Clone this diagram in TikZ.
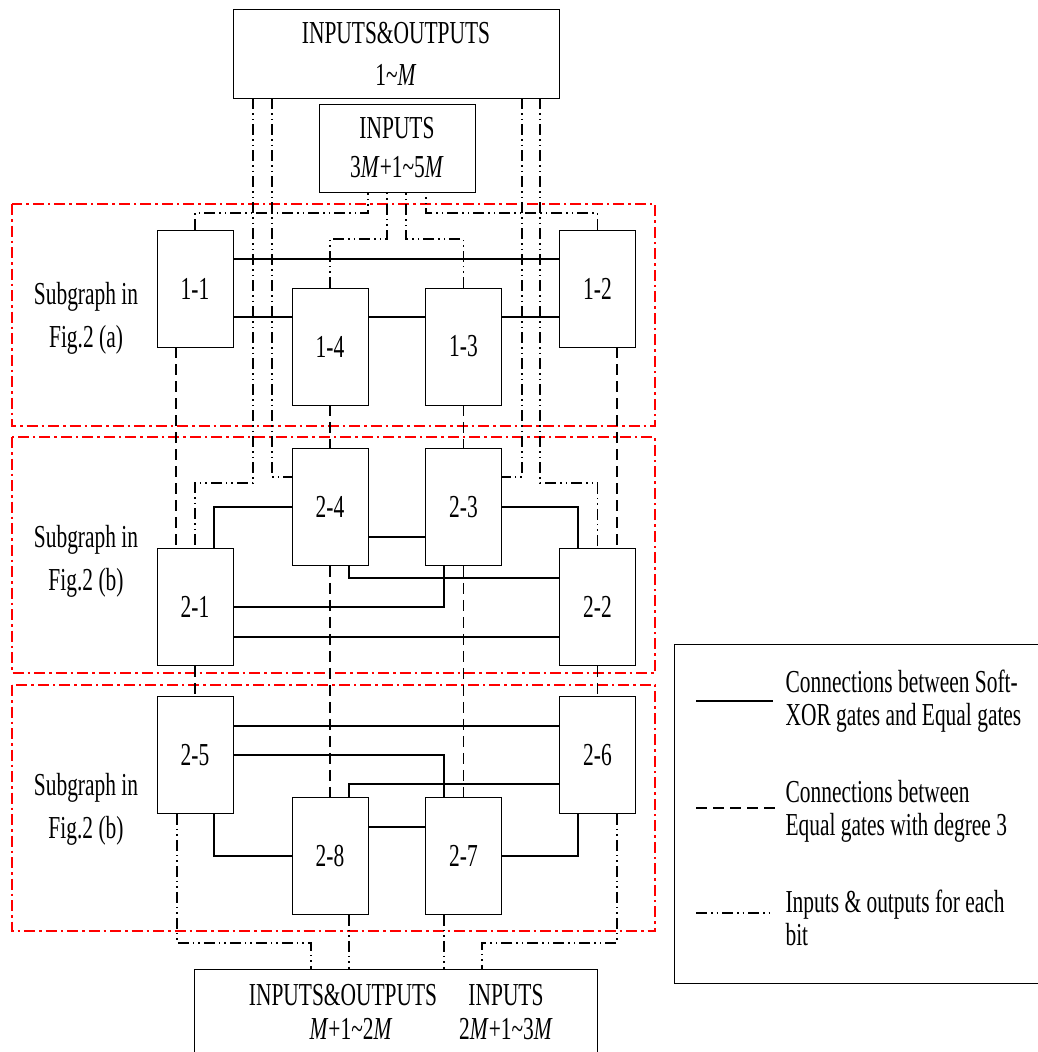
\documentclass[tikz,border=0pt]{standalone}
\usepackage{fontspec}
\setmainfont[FakeStretch=0.67]{Liberation Serif}
\usetikzlibrary{calc,positioning}

\begin{document}
\begin{tikzpicture}[x=1pt, y=-1pt,
    font=\fontsize{32}{38}\selectfont,
    gate/.style={draw, line width=0.9pt, minimum width=76pt, minimum height=117pt, inner sep=0pt},
    iobox/.style={draw, line width=0.9pt, inner sep=0pt, align=center},
    xorlink/.style={line width=1.4pt},
    eqlink/.style={line width=1.2pt, dash pattern=on 11pt off 6pt},
    iolink/.style={line width=1.2pt, dash pattern=on 11pt off 4pt on 1.5pt off 4pt on 1.5pt off 4pt},
    subgraph/.style={red, line width=1.3pt, dash pattern=on 11pt off 4pt on 2.5pt off 4pt}]
                        \useasboundingbox (0,0) rectangle (1038,1052);
                        \draw[subgraph]
                        (12,204) rectangle (655,426)
                        (12,437) rectangle (655,673)
                        (12,685) rectangle (655,931);
                        \node[align=center, font=\fontsize{32}{43}\selectfont] (lab1) at (86,318) {Subgraph in\\Fig.2 (a)};
                        \node[align=center, font=\fontsize{32}{43}\selectfont] (lab2) at (86,561) {Subgraph in\\Fig.2 (b)};
                        \node[align=center, font=\fontsize{32}{43}\selectfont] (lab3) at (86,809) {Subgraph in\\Fig.2 (b)};
                        \node[iobox, minimum width=326pt, minimum height=89pt, font=\fontsize{32}{42}\selectfont] (topio) at (396,53.5) {INPUTS\&OUTPUTS\\1\textasciitilde\textit{M}};
                        \node[iobox, minimum width=156pt, minimum height=88pt, font=\fontsize{32}{39}\selectfont] (inpt) at (397,148) {INPUTS\\3\textit{M}+1\textasciitilde 5\textit{M}};
                        \node[iobox, minimum width=403pt, minimum height=100pt, anchor=north] (botio) at (395.5,969) {};
                        \node[align=center, font=\fontsize{32}{34}\selectfont] (botiotxt) at (343,1012) {INPUTS\&OUTPUTS\\\hspace*{16pt}\textit{M}+1\textasciitilde 2\textit{M}};
                        \node[align=center, font=\fontsize{32}{34}\selectfont] (botintxt) at (506,1012) {INPUTS\\2\textit{M}+1\textasciitilde 3\textit{M}};
                        \node[gate] (g11) at (195,288.5) {1-1};
                        \node[gate] (g14) at (330,346.5) {1-4};
                        \node[gate] (g13) at (463.5,346.5) {1-3};
                        \node[gate] (g12) at (597.5,288.5) {1-2};
                        \node[gate] (g24) at (330,507) {2-4};
                        \node[gate] (g23) at (463.5,507) {2-3};
                        \node[gate] (g21) at (195,607) {2-1};
                        \node[gate] (g22) at (597.5,607) {2-2};
                        \node[gate] (g25) at (195,755) {2-5};
                        \node[gate] (g26) at (597.5,755) {2-6};
                        \node[gate] (g28) at (330,856) {2-8};
                        \node[gate] (g27) at (463.5,856) {2-7};
                        \draw[xorlink]
                        (g11.east |- 0,259) -- (g12.west |- 0,259)
                        (g11.east |- 0,317) -- (g14.west |- 0,317)
                        (g14.east |- 0,317) -- (g13.west |- 0,317)
                        (g13.east |- 0,317) -- (g12.west |- 0,317)
                        (g21.north -| 214,0) |- (g24.west)
                        (g24.east |- 0,537) -- (g23.west |- 0,537)
                        (g23.east) -| (g22.north -| 578,0)
                        (g24.south -| 349,0) |- (g22.west |- 0,578)
                        (g23.south -| 444,0) |- (g21.east)
                        (g21.east |- 0,637) -- (g22.west |- 0,637)
                        (g25.east |- 0,726) -- (g26.west |- 0,726)
                        (g25.east) -| (g27.north -| 444,0)
                        (g26.west |- 0,784) -| (g28.north -| 349,0)
                        (g28.east |- 0,827) -- (g27.west |- 0,827)
                        (g25.south -| 214,0) |- (g28.west)
                        (g26.south -| 578,0) |- (g27.east);
                        \draw[eqlink]
                        (g11.south -| 176,0) -- (g21.north -| 176,0)
                        (g12.south -| 617,0) -- (g22.north -| 617,0)
                        (g14.south) -- (g24.north)
                        (g13.south) -- (g23.north)
                        (g24.south) -- (g28.north)
                        (g23.south) -- (g27.north)
                        (g21.south) -- (g25.north)
                        (g22.south) -- (g26.north);
                        \draw[iolink]
                        (g11.north) |- (368,213) -- (368,213 |- inpt.south)
                        (g12.north) |- (426,213) -- (426,213 |- inpt.south)
                        (g14.north) |- (387,239) -- (387,239 |- inpt.south)
                        (g13.north) |- (406,239) -- (406,239 |- inpt.south)
                        (topio.south -| 253,0) -- (253,483) -| (g21.north)
                        (topio.south -| 272,0) |- (g24.west |- 0,477)
                        (topio.south -| 522,0) |- (g23.east |- 0,477)
                        (topio.south -| 540,0) -- (540,483) -| (g22.north)
                        (g25.south -| 177,0) |- (311,943) -- (311,943 |- botio.north)
                        (g26.south -| 617,0) |- (482,943) -- (482,943 |- botio.north)
                        (g28.south -| 349,0) -- (botio.north -| 349,0)
                        (g27.south -| 444,0) -- (botio.north -| 444,0);
                        \node[draw, line width=0.9pt, minimum width=380pt, minimum height=339pt, anchor=north west] (legend) at (674,644) {};
                        \coordinate (lg1a) at (696,701);
                        \coordinate (lg1b) at (773,701);
                        \coordinate (lg2a) at (696,808);
                        \coordinate (lg2b) at (775,808);
                        \coordinate (lg3a) at (696,913);
                        \coordinate (lg3b) at (773,913);
                        \draw[xorlink] (lg1a) -- (lg1b);
                        \draw[eqlink] (lg2a) -- (lg2b);
                        \draw[iolink] (lg3a) -- (lg3b);
                        \node[anchor=west, align=left, font=\fontsize{32}{33}\selectfont] (lgtxt1) at (782,701) {Connections between Soft-\\XOR gates and Equal gates};
                        \node[anchor=west, align=left, font=\fontsize{32}{33}\selectfont] (lgtxt2) at (782,811) {Connections between\\Equal gates with degree 3};
                        \node[anchor=west, align=left, font=\fontsize{32}{33}\selectfont] (lgtxt3) at (782,918) {Inputs \& outputs for each\\bit};
                    \end{tikzpicture}
\end{document}
